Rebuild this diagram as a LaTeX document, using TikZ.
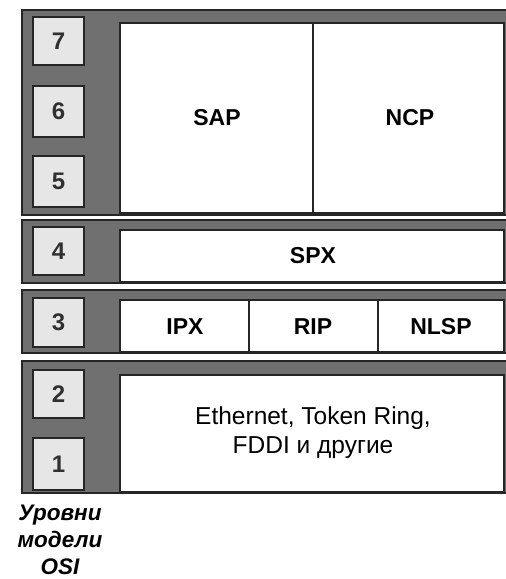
\documentclass[tikz,border=0pt]{standalone}
\usepackage{fontspec}
\setmainfont{Liberation Sans}
\begin{document}
\begin{tikzpicture}[x=1pt,y=-1pt,
  band/.style={fill=bandgray,draw=edgedark,line width=1.6pt},
  wbox/.style={fill=white,draw=edgedark,line width=1.3pt},
  numbox/.style={fill=numfill,draw=edgedark,line width=2pt},
  divline/.style={draw=edgedark,line width=1.2pt},
  lbl/.style={font=\fontsize{23}{27}\selectfont\bfseries,text=black},
  numlbl/.style={font=\fontsize{24}{28}\selectfont\bfseries,text=numtext},
  eth/.style={font=\fontsize{24.5}{29}\selectfont,align=center},
  captext/.style={font=\fontsize{22.5}{27}\selectfont\bfseries\itshape,align=center}
]
\definecolor{bandgray}{HTML}{707070}
\definecolor{edgedark}{HTML}{262626}
\definecolor{numfill}{HTML}{E6E6E6}
\definecolor{numtext}{HTML}{303030}
\useasboundingbox (0,0) rectangle (506,579);
\fill[white] (0,0) rectangle (506,579);

% Band 1 (layers 5-7)
\draw[band] (22,10) rectangle (508,215);
\draw[wbox] (120,23) rectangle (504,213);
\coordinate (d1t) at (313,23);
\coordinate (d1b) at (313,213);
\draw[divline] (d1t) -- (d1b);
\node[lbl] (sap) at (217,118) {SAP};
\node[lbl] (ncp) at (410,118) {NCP};

% Band 2 (layer 4)
\draw[band] (22,220) rectangle (508,283);
\draw[wbox] (120,230) rectangle (504,282);
\node[lbl] (spx) at (313,256) {SPX};

% Band 3 (layer 3)
\draw[band] (22,290) rectangle (508,353);
\draw[wbox] (120,300) rectangle (504,352);
\coordinate (d2t) at (249,300);
\coordinate (d2b) at (249,352);
\coordinate (d3t) at (378,300);
\coordinate (d3b) at (378,352);
\draw[divline] (d2t) -- (d2b);
\draw[divline] (d3t) -- (d3b);
\node[lbl] (ipx) at (185,327) {IPX};
\node[lbl] (rip) at (313,327) {RIP};
\node[lbl] (nlsp) at (441,327) {NLSP};

% Band 4 (layers 1-2)
\draw[band] (22,361) rectangle (508,493);
\draw[wbox] (120,375) rectangle (504,492);
\node[eth] (phys) at (313,433) {Ethernet, Token Ring,\\FDDI и другие};

% Number boxes
\foreach \n/\ya/\yb in {7/17/65,6/86/137,5/156/207,4/227/275,3/298/347,2/370/418,1/438/490}{
  \draw[numbox] (33,\ya) rectangle (84,\yb);
  \node[numlbl] (n\n) at (58.5,{(\ya+\yb)/2}) {\n};
}

% Caption
\node[captext] (caption) at (60,540) {Уровни\\модели\\OSI};
\end{tikzpicture}
\end{document}
